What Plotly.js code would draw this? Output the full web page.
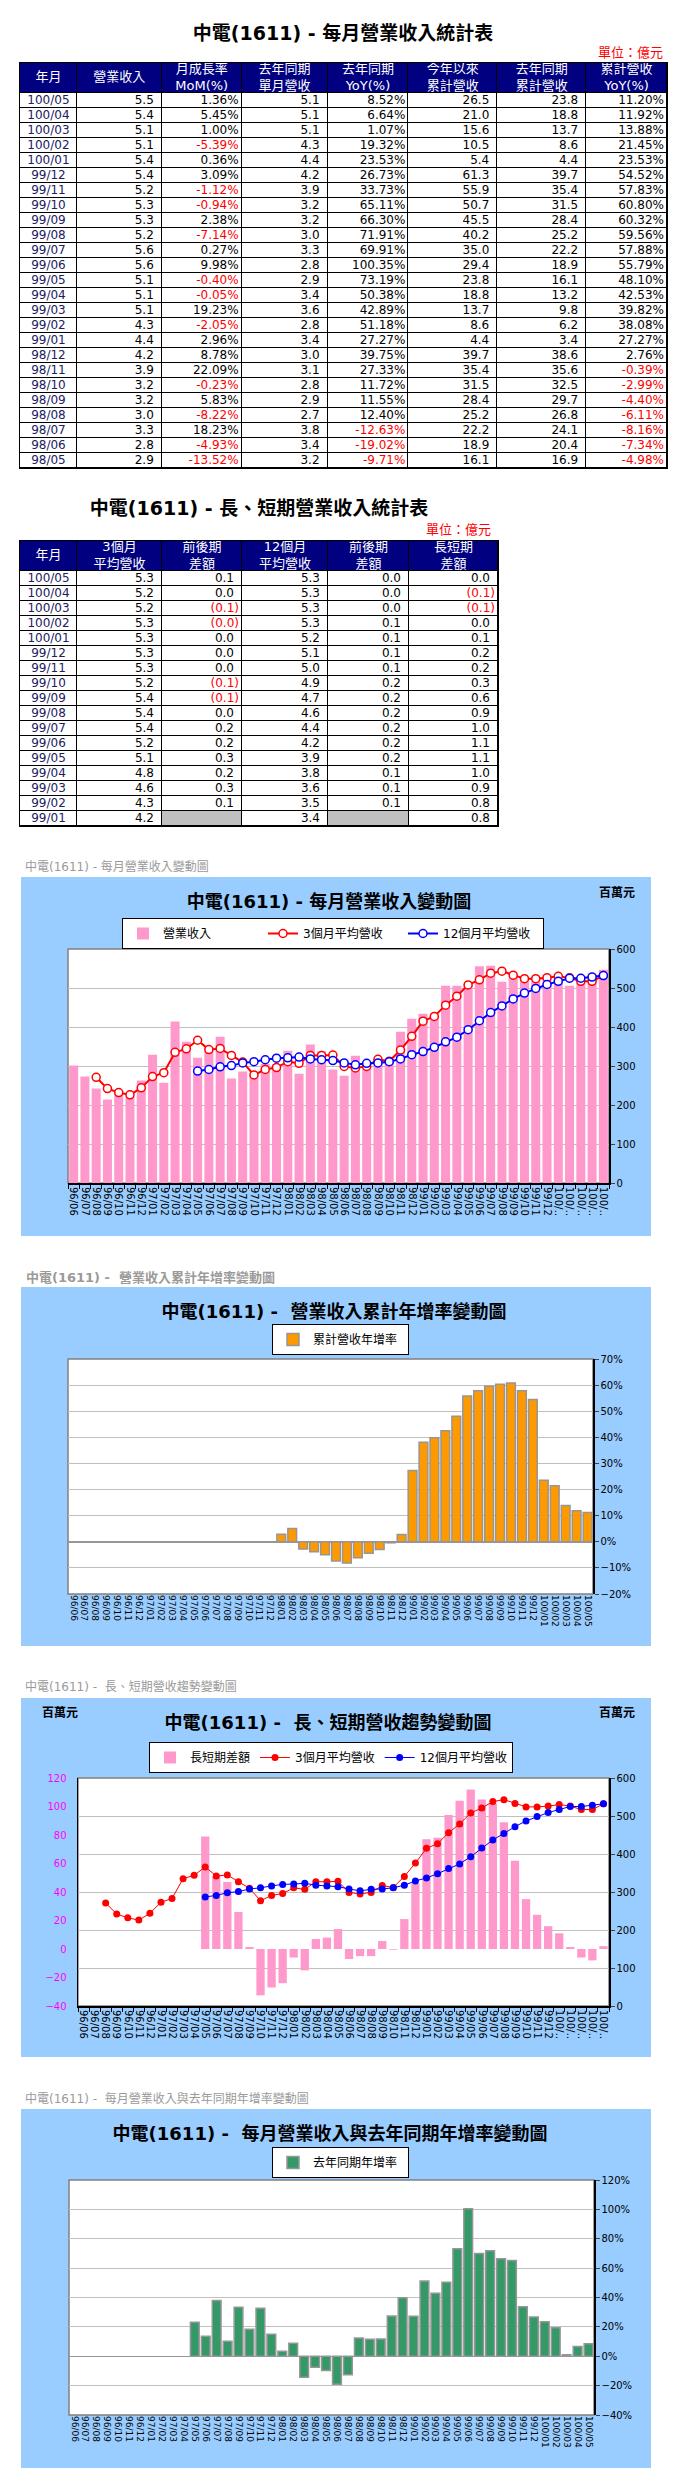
<!DOCTYPE html>
<html>
<head>
<meta charset="utf-8">
<script src="https://cdn.plot.ly/plotly-3.0.1.min.js"></script>
<style>
body{margin:0;background:#fff;}
#pagina{position:relative;width:676px;height:2491px;overflow:hidden;}
.bloque{position:absolute;}
.rotulo{position:absolute;font-family:'DejaVu Sans','Noto Sans CJK TC',sans-serif;color:#9a9a9a;white-space:nowrap;line-height:16px;}
</style>
</head>
<body>
<div id="pagina">
  <div id="tabla1" class="bloque" style="left:0;top:0;width:676px;height:470px"></div>
  <div id="tabla2" class="bloque" style="left:0;top:480px;width:676px;height:350px"></div>
  <div class="rotulo" style="left:25px;top:859px;font-size:12px">中電(1611) - 每月營業收入變動圖</div>
  <div id="grafica1" class="bloque" style="left:21px;top:877px;width:630px;height:359px"></div>
  <div class="rotulo" style="left:26px;top:1270px;font-size:13px;font-weight:bold">中電(1611) -&nbsp; 營業收入累計年增率變動圖</div>
  <div id="grafica2" class="bloque" style="left:21px;top:1287px;width:630px;height:359px"></div>
  <div class="rotulo" style="left:25px;top:1679px;font-size:12px">中電(1611) -&nbsp; 長、短期營收趨勢變動圖</div>
  <div id="grafica3" class="bloque" style="left:21px;top:1698px;width:630px;height:359px"></div>
  <div class="rotulo" style="left:25px;top:2091px;font-size:12px">中電(1611) -&nbsp; 每月營業收入與去年同期年增率變動圖</div>
  <div id="grafica4" class="bloque" style="left:21px;top:2109px;width:630px;height:359px"></div>
</div>
<script>
const FUENTE = "Tahoma, 'DejaVu Sans', 'Noto Sans CJK TC', sans-serif";
const CONFIGURACION = {staticPlot: true};

// ---- tabla 1: estadística mensual (億元)
const MESES_TABLA1 = ['100/05','100/04','100/03','100/02','100/01','99/12','99/11','99/10','99/09','99/08','99/07','99/06','99/05','99/04','99/03','99/02','99/01','98/12','98/11','98/10','98/09','98/08','98/07','98/06','98/05'];
const INGRESO_T1 = [5.5,5.4,5.1,5.1,5.4,5.4,5.2,5.3,5.3,5.2,5.6,5.6,5.1,5.1,5.1,4.3,4.4,4.2,3.9,3.2,3.2,3.0,3.3,2.8,2.9];
const MOM_T1 = [1.36,5.45,1.00,-5.39,0.36,3.09,-1.12,-0.94,2.38,-7.14,0.27,9.98,-0.40,-0.05,19.23,-2.05,2.96,8.78,22.09,-0.23,5.83,-8.22,18.23,-4.93,-13.52];
const INGRESO_ANT_T1 = [5.1,5.1,5.1,4.3,4.4,4.2,3.9,3.2,3.2,3.0,3.3,2.8,2.9,3.4,3.6,2.8,3.4,3.0,3.1,2.8,2.9,2.7,3.8,3.4,3.2];
const YOY_T1 = [8.52,6.64,1.07,19.32,23.53,26.73,33.73,65.11,66.30,71.91,69.91,100.35,73.19,50.38,42.89,51.18,27.27,39.75,27.33,11.72,11.55,12.40,-12.63,-19.02,-9.71];
const ACUM_T1 = [26.5,21.0,15.6,10.5,5.4,61.3,55.9,50.7,45.5,40.2,35.0,29.4,23.8,18.8,13.7,8.6,4.4,39.7,35.4,31.5,28.4,25.2,22.2,18.9,16.1];
const ACUM_ANT_T1 = [23.8,18.8,13.7,8.6,4.4,39.7,35.4,31.5,28.4,25.2,22.2,18.9,16.1,13.2,9.8,6.2,3.4,38.6,35.6,32.5,29.7,26.8,24.1,20.4,16.9];
const ACUM_YOY_T1 = [11.20,11.92,13.88,21.45,23.53,54.52,57.83,60.80,60.32,59.56,57.88,55.79,48.10,42.53,39.82,38.08,27.27,2.76,-0.39,-2.99,-4.40,-6.11,-8.16,-7.34,-4.98];
const ENCABEZADOS_T1 = ['年月','營業收入','月成長率<br>MoM(%)','去年同期<br>單月營收','去年同期<br>YoY(%)','今年以來<br>累計營收','去年同期<br>累計營收','累計營收<br>YoY(%)'];

// ---- tabla 2:長、短期 (億元)
const MESES_TABLA2 = ['100/05','100/04','100/03','100/02','100/01','99/12','99/11','99/10','99/09','99/08','99/07','99/06','99/05','99/04','99/03','99/02','99/01'];
const PROM3_T2 = [5.3,5.2,5.2,5.3,5.3,5.3,5.3,5.2,5.4,5.4,5.4,5.2,5.1,4.8,4.6,4.3,4.2];
const DIF3_T2 = [0.1,0.0,-0.1,-0.04,0.0,0.0,0.0,-0.1,-0.1,0.0,0.2,0.2,0.3,0.2,0.3,0.1,null];
const PROM12_T2 = [5.3,5.3,5.3,5.3,5.2,5.1,5.0,4.9,4.7,4.6,4.4,4.2,3.9,3.8,3.6,3.5,3.4];
const DIF12_T2 = [0.0,0.0,0.0,0.1,0.1,0.1,0.1,0.2,0.2,0.2,0.2,0.2,0.2,0.1,0.1,0.1,null];
const LARGO_CORTO_T2 = [0.0,-0.1,-0.1,0.0,0.1,0.2,0.2,0.3,0.6,0.9,1.0,1.1,1.1,1.0,0.9,0.8,0.8];
const ENCABEZADOS_T2 = ['年月','3個月<br>平均營收','前後期<br>差額','12個月<br>平均營收','前後期<br>差額','長短期<br>差額'];

// ---- gráficas (百萬元 / %)
const MESES = ['96/06','96/07','96/08','96/09','96/10','96/11','96/12',
  '97/01','97/02','97/03','97/04','97/05','97/06','97/07','97/08','97/09','97/10','97/11','97/12',
  '98/01','98/02','98/03','98/04','98/05','98/06','98/07','98/08','98/09','98/10','98/11','98/12',
  '99/01','99/02','99/03','99/04','99/05','99/06','99/07','99/08','99/09','99/10','99/11','99/12',
  '100/01','100/02','100/03','100/04','100/05'];
const INGRESO_MENSUAL = [301,273,242,214,228,222,263,
  329,257,414,362,321,349,375,268,286,277,305,305,
  339,280,355,337,291,275,326,300,318,315,388,421,
  434,428,506,506,508,556,557,516,531,526,520,535,
  532,506,513,538,547];
const PROMEDIO_3M = [null,null,271,242,232,226,244,
  273,283,335,344,366,342,345,327,310,277,291,296,
  311,307,327,327,328,299,295,299,317,312,341,376,
  415,427,456,479,508,521,538,543,533,524,524,526,
  530,526,517,517,532];
const PROMEDIO_12M = [null,null,null,null,null,null,null,
  null,null,null,null,287,291,298,301,308,311,316,320,
  321,323,318,316,314,308,303,307,308,311,318,329,
  337,348,362,374,393,416,437,454,472,487,499,509,
  517,525,525,528,532];
const DIF_LARGO_CORTO = [null,null,null,null,null,null,null,
  null,null,null,null,79,51,47,26,1.4,-32.5,-27,-24,
  -6,-15,7,8,14,-7,-5,-5,5.6,-0.5,21,46,
  77,78,94,104,112,105,102,89,62,35,24,16,
  11,1.4,-6,-8,2];
const ACUM_YOY = [null,null,null,null,null,null,null,
  null,null,null,null,null,null,null,null,null,null,null,null,
  2.9,5.1,-2.8,-3.8,-4.98,-7.34,-8.16,-6.11,-4.40,-2.99,-0.39,2.76,
  27.27,38.08,39.82,42.53,48.10,55.79,57.88,59.56,60.32,60.80,57.83,54.52,
  23.53,21.45,13.88,11.92,11.20];
const YOY_MENSUAL = [null,null,null,null,null,null,null,
  null,null,null,null,23.1,13.6,38.0,10.2,33.3,18.3,32.6,14.9,
  3.4,8.8,-14.3,-7.5,-9.71,-19.02,-12.63,12.40,11.55,11.72,27.33,39.75,
  27.27,51.18,42.89,50.38,73.19,100.35,69.91,71.91,66.30,65.11,33.73,26.73,
  23.53,19.32,1.07,6.64,8.52];

const fmt1 = v => v.toFixed(1);
const fmtPct = v => v.toFixed(2) + '%';
const fmtParen = v => v === null ? '' : (v < 0 ? '(' + Math.abs(v).toFixed(1) + ')' : v.toFixed(1));
const fmtMes = v => v;

function dibujarTabla(id, t){
    let bordes = [0];
    t.anchos.forEach(w => bordes.push(bordes[bordes.length - 1] + w));
    let total = bordes[bordes.length - 1];
    let n = t.columnas[0].valores.length;
    let yBordes = [0, 2];
    for(let i = 1; i <= n; i++) yBordes.push(2 + i);
    let z = [t.anchos.map(() => 2)];
    for(let i = 0; i < n; i++) z.push(t.columnas.map(c => c.valores[i] === null ? 1 : 0));

    let datos = [{
        type: 'heatmap', x: bordes, y: yBordes, z: z, zmin: 0, zmax: 2,
        colorscale: [[0,'#FFFFFF'],[0.5,'#C0C0C0'],[1,'#000080']],
        showscale: false, xgap: 1, ygap: 1, hoverinfo: 'skip'
    },{
        type: 'scatter', mode: 'text',
        x: t.anchos.map((w, j) => (bordes[j] + bordes[j+1]) / 2),
        y: t.anchos.map(() => 1),
        text: t.encabezados, textposition: 'middle center',
        textfont: {family: FUENTE, size: 13, color: '#FFFFFF'},
        hoverinfo: 'skip', cliponaxis: false
    }];

    t.columnas.forEach((c, j) => {
        let textos = c.valores.map(v => v === null ? '' : c.formato(v));
        let centro = c.alinear == 'center';
        datos.push({
            type: 'scatter', mode: 'text',
            x: textos.map(s => centro ? (bordes[j] + bordes[j+1]) / 2 : bordes[j+1] - (/[%)]$/.test(s) ? 3 : 8)),
            y: textos.map((s, i) => 2.5 + i),
            text: textos,
            textposition: centro ? 'middle center' : 'middle left',
            textfont: {family: FUENTE, size: 12, color: c.valores.map(v => (typeof v == 'number' && v < 0) ? '#FF0000' : (c.color || '#000000'))},
            hoverinfo: 'skip', cliponaxis: false
        });
    });

    let eje = {showline: true, mirror: true, linecolor: '#000000', linewidth: 1, showgrid: false,
        zeroline: false, showticklabels: false, ticks: '', fixedrange: true};
    let layout = {
        width: 676, height: t.alto, margin: t.margen,
        plot_bgcolor: '#000000', paper_bgcolor: '#FFFFFF', showlegend: false,
        xaxis: Object.assign({range: [0, total]}, eje),
        yaxis: Object.assign({range: [n + 2, 0]}, eje),
        title: {text: '<b>' + t.titulo + '</b>', font: {family: FUENTE, size: 19, color: '#000000'},
            x: t.tituloX, xanchor: 'center', y: t.tituloY, yanchor: 'middle', yref: 'container'},
        annotations: [{text: '單位：億元', xref: 'paper', yref: 'paper', x: t.unidad[0], y: t.unidad[1],
            xanchor: 'right', yanchor: 'middle', showarrow: false, font: {family: FUENTE, size: 13, color: '#FF0000'}}]
    };
    Plotly.newPlot(document.getElementById(id), datos, layout, CONFIGURACION);
}

dibujarTabla('tabla1', {
    anchos: [57,85,80,86,81,89,89,81],
    encabezados: ENCABEZADOS_T1,
    columnas: [
        {valores: MESES_TABLA1, formato: fmtMes, alinear: 'center', color: '#202060'},
        {valores: INGRESO_T1, formato: fmt1},
        {valores: MOM_T1, formato: fmtPct},
        {valores: INGRESO_ANT_T1, formato: fmt1},
        {valores: YOY_T1, formato: fmtPct},
        {valores: ACUM_T1, formato: fmt1},
        {valores: ACUM_ANT_T1, formato: fmt1},
        {valores: ACUM_YOY_T1, formato: fmtPct}
    ],
    alto: 470, margen: {l: 20, r: 9, t: 63, b: 2},
    titulo: '中電(1611) - 每月營業收入統計表', tituloX: 343/676, tituloY: 1 - 33/470,
    unidad: [(665 - 20) / 647, 1 + (63 - 53) / 405]
});

dibujarTabla('tabla2', {
    anchos: [57,85,80,86,81,89],
    encabezados: ENCABEZADOS_T2,
    columnas: [
        {valores: MESES_TABLA2, formato: fmtMes, alinear: 'center', color: '#202060'},
        {valores: PROM3_T2, formato: fmt1},
        {valores: DIF3_T2, formato: fmtParen},
        {valores: PROM12_T2, formato: fmt1},
        {valores: DIF12_T2, formato: fmtParen},
        {valores: LARGO_CORTO_T2, formato: fmtParen}
    ],
    alto: 350, margen: {l: 20, r: 178, t: 61, b: 4},
    titulo: '中電(1611) - 長、短期營業收入統計表', tituloX: 259/676, tituloY: 1 - 28/350,
    unidad: [(493 - 20) / 478, 1 + (61 - 49) / 285]
});

// ---- helpers gráficas
const ANCHO = 630, ALTO = 359;
function aPapel(m, x, y){
    return {x: (x - m.l) / (ANCHO - m.l - m.r), y: 1 - (y - m.t) / (ALTO - m.t - m.b)};
}
const ETIQUETAS_CORTAS = MESES.map(m => m.startsWith('100/') ? '100/‥' : m);

function ejeX(etiquetas, tam, linea){
    let eje = {type: 'category', tickmode: 'array', tickvals: MESES, ticktext: etiquetas,
        tickangle: 90, tickfont: {size: tam}, range: [-0.5, MESES.length - 0.5],
        showgrid: false, zeroline: false, fixedrange: true, automargin: false};
    if (linea){
        eje.showline = true; eje.linecolor = '#000000'; eje.linewidth = 2;
        eje.ticks = 'outside'; eje.tickson = 'boundaries'; eje.ticklen = 4; eje.tickcolor = '#000000';
    } else {
        eje.showline = false; eje.ticks = '';
    }
    return eje;
}

function layoutBase(m, titulo, tituloX, leyendaPx, anchoItem){
    let pos = aPapel(m, leyendaPx[0], leyendaPx[1]);
    return {
        width: ANCHO, height: ALTO, margin: m,
        paper_bgcolor: '#99CCFF', plot_bgcolor: '#FFFFFF',
        font: {family: FUENTE, size: 10, color: '#000000'},
        title: {text: '<b>' + titulo + '</b>', font: {size: 18, color: '#000000'},
            x: tituloX / ANCHO, xanchor: 'center', y: 1 - 25 / ALTO, yanchor: 'middle', yref: 'container'},
        showlegend: true,
        legend: {orientation: 'h', x: pos.x, y: pos.y, xanchor: 'left', yanchor: 'top',
            bgcolor: '#FFFFFF', bordercolor: '#000000', borderwidth: 1,
            font: {size: 12}, entrywidth: anchoItem, traceorder: 'normal'},
        shapes: [{type: 'rect', xref: 'paper', yref: 'paper', x0: 0, x1: 1, y0: 0, y1: 1,
            line: {color: '#808080', width: 1.5}, layer: 'below'}],
        annotations: []
    };
}

function notaUnidad(m, x, y){
    let p = aPapel(m, x, y);
    return {text: '<b>百萬元</b>', xref: 'paper', yref: 'paper', x: p.x, y: p.y,
        xanchor: 'center', yanchor: 'middle', showarrow: false, font: {size: 12, color: '#000000'}};
}

// ---- gráfica 1
function graficaMensual(){
    let m = {l: 47, r: 42, t: 72, b: 53};
    let datos = [{
        type: 'bar', name: '營業收入', x: MESES, y: INGRESO_MENSUAL,
        marker: {color: '#FF99CC'}
    },{
        type: 'scatter', mode: 'lines+markers', name: '3個月平均營收', x: MESES, y: PROMEDIO_3M,
        line: {color: '#FF0000', width: 2},
        marker: {symbol: 'circle', size: 8, color: '#FFFFFF', line: {color: '#FF0000', width: 1.5}}
    },{
        type: 'scatter', mode: 'lines+markers', name: '12個月平均營收', x: MESES, y: PROMEDIO_12M,
        line: {color: '#0000FF', width: 2},
        marker: {symbol: 'circle', size: 8, color: '#FFFFFF', line: {color: '#0000FF', width: 1.5}}
    }];
    let layout = layoutBase(m, '中電(1611) - 每月營業收入變動圖', 308, [101, 41], 95);
    layout.bargap = 0.2;
    layout.xaxis = ejeX(ETIQUETAS_CORTAS, 10, true);
    layout.yaxis = {side: 'right', range: [0, 600], dtick: 100, gridcolor: '#C0C0C0', showline: true,
        linecolor: '#000000', linewidth: 1.5, ticks: 'outside', ticklen: 4, zeroline: false,
        fixedrange: true, automargin: false};
    layout.annotations.push(notaUnidad(m, 596, 16));
    Plotly.newPlot(document.getElementById('grafica1'), datos, layout, CONFIGURACION);
}

// ---- gráfica 2 y 4 (barras de porcentaje)
function graficaPorcentaje(id, m, serie, nombre, color, titulo, tituloX, leyendaPx, rango, paso){
    let datos = [{
        type: 'bar', name: nombre, x: MESES, y: serie,
        marker: {color: color, line: {color: '#969696', width: 1.5}}
    }];
    let layout = layoutBase(m, titulo, tituloX, leyendaPx, 90);
    layout.bargap = 0.2;
    layout.xaxis = ejeX(MESES, 9, false);
    layout.yaxis = {side: 'right', range: rango, dtick: paso, ticksuffix: '%', gridcolor: '#C0C0C0',
        zeroline: true, zerolinecolor: '#969696', zerolinewidth: 1.5, showline: true,
        linecolor: '#000000', linewidth: 1.5, ticks: 'outside', ticklen: 4, fixedrange: true, automargin: false};
    Plotly.newPlot(document.getElementById(id), datos, layout, CONFIGURACION);
}

// ---- gráfica 3
function graficaLargoCorto(){
    let m = {l: 57, r: 42, t: 80, b: 51};
    let datos = [{
        type: 'bar', name: '長短期差額', x: MESES, y: DIF_LARGO_CORTO, yaxis: 'y',
        marker: {color: '#FF99CC'}
    },{
        type: 'scatter', mode: 'lines+markers', name: '3個月平均營收', x: MESES, y: PROMEDIO_3M, yaxis: 'y2',
        line: {color: '#FF0000', width: 1}, marker: {symbol: 'circle', size: 7, color: '#FF0000'}
    },{
        type: 'scatter', mode: 'lines+markers', name: '12個月平均營收', x: MESES, y: PROMEDIO_12M, yaxis: 'y2',
        line: {color: '#0000FF', width: 1}, marker: {symbol: 'circle', size: 7, color: '#0000FF'}
    }];
    let layout = layoutBase(m, '中電(1611) -&nbsp; 長、短期營收趨勢變動圖', 307, [128, 44], 0);
    layout.bargap = 0.25;
    layout.xaxis = ejeX(ETIQUETAS_CORTAS, 10, true);
    layout.yaxis = {side: 'left', range: [-40, 120], dtick: 20, showgrid: false, zeroline: false,
        showline: true, linecolor: '#000000', linewidth: 1.5, ticks: '', ticklabelstandoff: 8,
        tickfont: {color: '#FF00FF'}, fixedrange: true, automargin: false};
    layout.yaxis2 = {overlaying: 'y', side: 'right', range: [0, 600], dtick: 100, showgrid: true,
        gridcolor: '#C0C0C0', zeroline: false, showline: true, linecolor: '#000000', linewidth: 1.5,
        ticks: 'outside', ticklen: 4, fixedrange: true, automargin: false};
    layout.annotations.push(notaUnidad(m, 39, 15));
    layout.annotations.push(notaUnidad(m, 596, 15));
    Plotly.newPlot(document.getElementById('grafica3'), datos, layout, CONFIGURACION);
}

graficaMensual();
graficaPorcentaje('grafica2', {l: 47, r: 58, t: 72, b: 52}, ACUM_YOY, '累計營收年增率', '#FF9900',
    '中電(1611) -&nbsp; 營業收入累計年增率變動圖', 313, [251, 37], [-20, 70], 10);
graficaLargoCorto();
graficaPorcentaje('grafica4', {l: 48, r: 57, t: 71, b: 53}, YOY_MENSUAL, '去年同期年增率', '#339966',
    '中電(1611) -&nbsp; 每月營業收入與去年同期年增率變動圖', 309, [251, 38], [-40, 120], 20);
</script>
</body>
</html>
